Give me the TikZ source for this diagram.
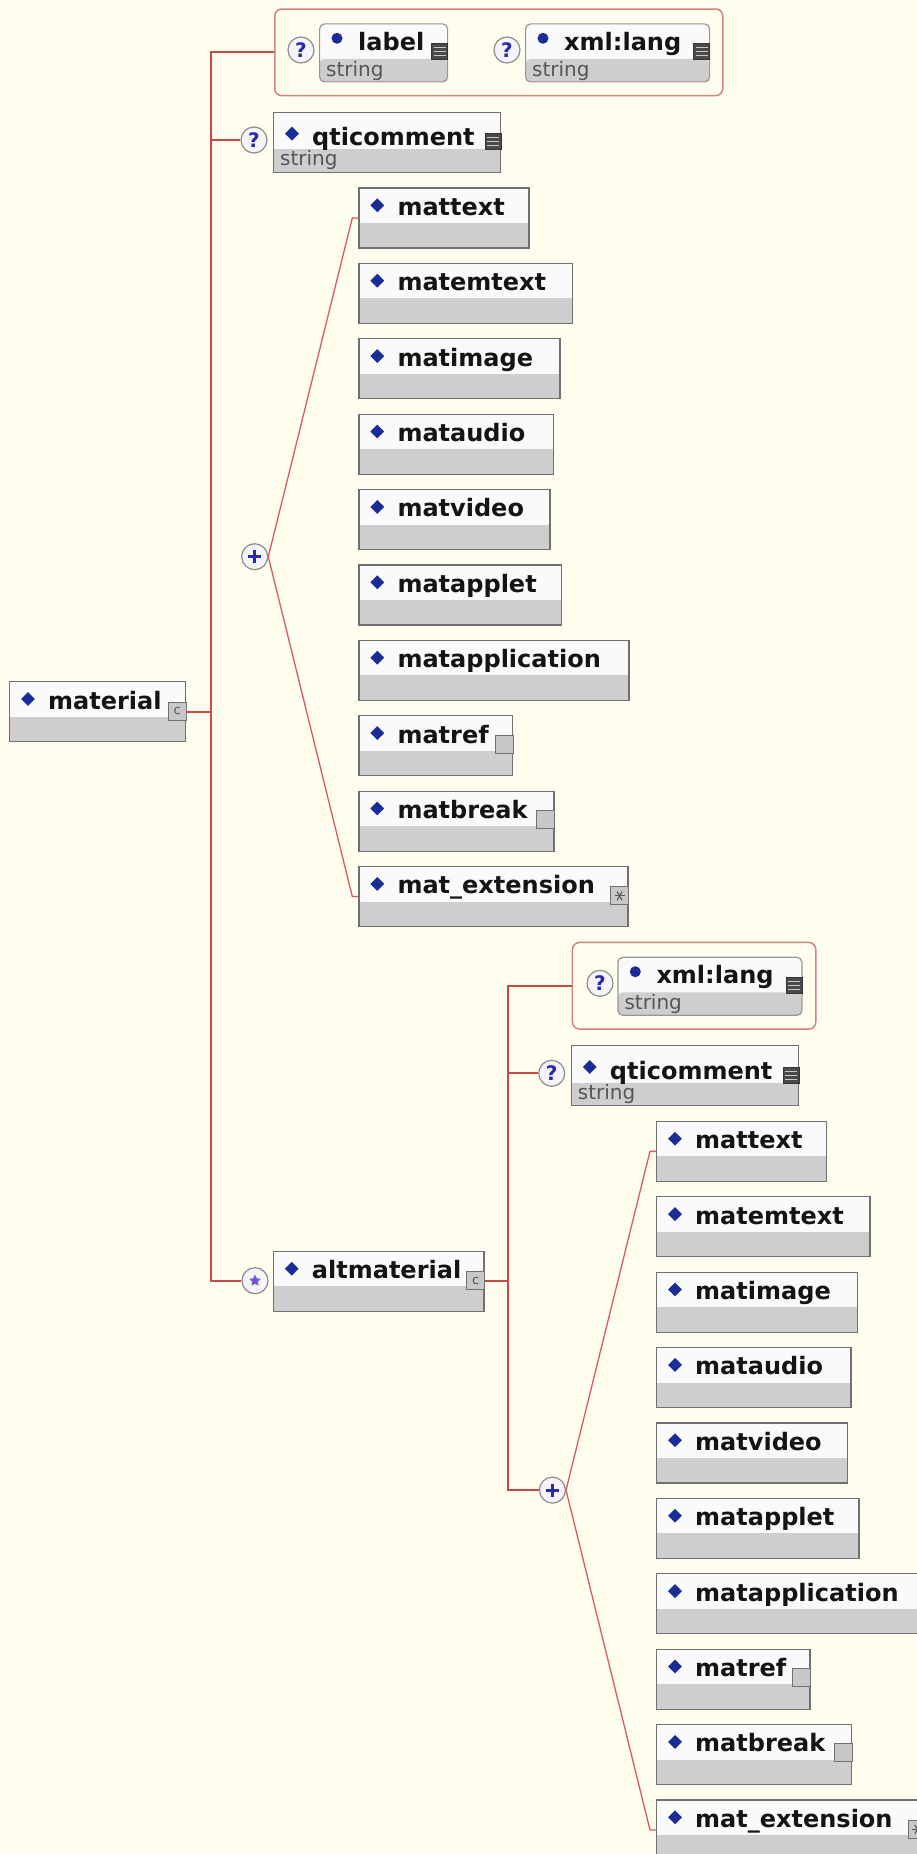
\documentclass[tikz,border=0pt]{standalone}
\usepackage{fontspec}
\setmainfont{DejaVu Sans}
\usetikzlibrary{shapes.geometric}

\definecolor{paper}{RGB}{255,254,238}
\definecolor{wire}{RGB}{198,74,74}
\definecolor{fanwire}{RGB}{212,92,96}
\definecolor{frame}{RGB}{214,128,128}
\definecolor{boxline}{RGB}{112,112,112}
\definecolor{attrline}{RGB}{150,150,150}
\definecolor{boxgray}{RGB}{206,206,206}
\definecolor{boxwhite}{RGB}{250,250,250}
\definecolor{mark}{RGB}{26,44,150}
\definecolor{qblue}{RGB}{40,40,170}
\definecolor{ringfill}{RGB}{244,244,250}
\definecolor{ringline}{RGB}{140,140,140}
\definecolor{typecol}{RGB}{85,85,85}
\definecolor{icondark}{RGB}{74,74,74}
\definecolor{iconlight}{RGB}{200,200,200}
\definecolor{starfill}{RGB}{110,90,210}
\definecolor{ink}{RGB}{20,20,20}

\tikzset{
  elem/.style={draw=boxline, line width=1.3pt, fill=boxwhite, minimum height=60pt,
    inner sep=0pt, anchor=north west,
    path picture={\fill[boxgray] ([yshift=25pt]path picture bounding box.south west)
      rectangle (path picture bounding box.south east);}},
  typed/.style={elem,
    path picture={\fill[boxgray] ([yshift=23pt]path picture bounding box.south west)
      rectangle (path picture bounding box.south east);}},
  attr/.style={draw=attrline, line width=1.2pt, fill=boxwhite, rounded corners=5pt,
    minimum height=58pt, inner sep=0pt, anchor=north west,
    path picture={\fill[boxgray] ([yshift=23pt]path picture bounding box.south west)
      rectangle (path picture bounding box.south east);}},
  group/.style={draw=frame, line width=1.5pt, rounded corners=7pt, anchor=north west,
    inner sep=0pt},
  nametext/.style={anchor=base west, inner sep=0pt, text=ink,
    font=\fontsize{24}{24}\selectfont\bfseries},
  typetext/.style={anchor=base west, inner sep=0pt, text=typecol,
    font=\fontsize{20}{20}\selectfont},
  elemmark/.style={diamond, fill=mark, inner sep=0pt, minimum width=14pt, minimum height=14pt},
  attrmark/.style={circle, fill=mark, inner sep=0pt, minimum size=11pt},
  ring/.style={circle, draw=ringline, fill=ringfill, line width=1.2pt, minimum size=26pt,
    inner sep=0pt},
  optional/.style={ring, text=qblue, font=\fontsize{20}{20}\selectfont\bfseries},
  plusring/.style={ring,
    path picture={\draw[qblue, line width=2.8pt]
      ([xshift=-6.5pt]path picture bounding box.center) -- ([xshift=6.5pt]path picture bounding box.center)
      ([yshift=-6.5pt]path picture bounding box.center) -- ([yshift=6.5pt]path picture bounding box.center);}},
  wire/.style={draw=wire, line width=2.2pt},
  fan/.style={draw=fanwire, line width=1.3pt, line join=round},
  plainicon/.style={draw=boxline, fill=iconlight, line width=1pt, minimum size=18pt, inner sep=0pt},
  cicon/.style={plainicon, font=\fontsize{13}{13}\selectfont, text=typecol},
  exticon/.style={plainicon,
    path picture={\foreach \ang in {0,60,120}
      \draw[typecol, line width=1.1pt]
        ([shift={(\ang:5pt)}]path picture bounding box.center) --
        ([shift={(\ang+180:5pt)}]path picture bounding box.center);}},
  typeicon/.style={draw=icondark!70!black, fill=icondark, line width=0.8pt, minimum size=16pt,
    inner sep=0pt,
    path picture={\foreach \yy in {-4,0,4}
      \draw[iconlight, line width=1pt]
        ([xshift=-6pt,yshift=\yy pt]path picture bounding box.center) --
        ([xshift=6pt,yshift=\yy pt]path picture bounding box.center);}},
}

% element box without a type line
\newcommand{\plainel}[5]{%
  \node[elem, minimum width=#4 pt] (#1) at (#2,#3) {};
  \node[elemmark] (#1-m) at ([xshift=19pt,yshift=-18pt]#1.north west) {};
  \node[nametext] (#1-n) at ([xshift=39pt,yshift=-28pt]#1.north west) {#5};
}
% element box with a simple type
\newcommand{\typedel}[5]{%
  \node[typed, minimum width=#4 pt] (#1) at (#2,#3) {};
  \node[elemmark] (#1-m) at ([xshift=19pt,yshift=-22pt]#1.north west) {};
  \node[nametext] (#1-n) at ([xshift=39pt,yshift=-34pt]#1.north west) {#5};
  \node[typetext] (#1-s) at ([xshift=7pt,yshift=-54pt]#1.north west) {string};
  \node[typeicon] (#1-i) at ([xshift=-8pt,yshift=-30pt]#1.north east) {};
}
% attribute box
\newcommand{\attrel}[5]{%
  \node[attr, minimum width=#4 pt] (#1) at (#2,#3) {};
  \node[attrmark] (#1-m) at ([xshift=18pt,yshift=-15pt]#1.north west) {};
  \node[nametext] (#1-n) at ([xshift=39pt,yshift=-27pt]#1.north west) {#5};
  \node[typetext] (#1-s) at ([xshift=7pt,yshift=-53pt]#1.north west) {string};
  \node[typeicon] (#1-i) at ([xshift=-8.5pt,yshift=-28.5pt]#1.north east) {};
}

\begin{document}
\begin{tikzpicture}[x=1pt, y=-1pt]
  \useasboundingbox (0,0) rectangle (917,1854);
  \fill[paper] (0,0) rectangle (917,1854);
  \clip (0,0) rectangle (917,1854);

  \coordinate (trunkA) at (211,0);
  \coordinate (trunkB) at (508,0);

  % ---------- material ----------
  \node[group, minimum width=448pt, minimum height=86.6pt] (attrsA) at (274,8.3) {};
  \attrel{labelA}{319}{23.3}{128}{label}
  \attrel{langA}{525}{23.3}{184}{xml:lang}
  \node[optional] (labelA-q) at (301,50) {?};
  \node[optional] (langA-q) at (507,50) {?};

  \typedel{qtcA}{273}{111.6}{227}{qticomment}
  \node[optional] (qtcA-q) at (254,140) {?};

  \plainel{material}{9}{681}{176}{material}
  \node[cicon] (material-i) at ([xshift=-9pt,yshift=-30pt]material.north east) {c};

  \foreach \i/\wid/\lbl in {1/170/mattext, 2/213.4/matemtext, 3/201/matimage,
      4/194.4/mataudio, 5/191/matvideo, 6/202.4/matapplet, 7/270/matapplication,
      8/153.4/matref, 9/195/matbreak, 10/269/mat\_extension}{
    \pgfmathsetmacro\ytop{187.3+75.4*(\i-1)}
    \plainel{a\i}{358.3}{\ytop}{\wid}{\lbl}
  }
  \node[plainicon] (a8-i) at ([xshift=-9pt,yshift=-29pt]a8.north east) {};
  \node[plainicon] (a9-i) at ([xshift=-9pt,yshift=-29pt]a9.north east) {};
  \node[exticon] (a10-i) at ([xshift=-9pt,yshift=-30pt]a10.north east) {};
  \node[plusring] (plusA) at (254.7,556.7) {};

  % ---------- altmaterial ----------
  \plainel{altmaterial}{272.7}{1250.7}{210.6}{altmaterial}
  \node[cicon] (altmaterial-i) at ([xshift=-9pt,yshift=-30pt]altmaterial.north east) {c};
  \node[ring] (altq) at (255,1280.7) {};
  \node[star, star points=5, star point ratio=2, fill=starfill, inner sep=0pt,
        minimum size=12pt] (altq-s) at (altq) {};

  \node[group, minimum width=243.3pt, minimum height=86.6pt] (attrsB) at (571.7,941.7) {};
  \attrel{langB}{617.3}{956.7}{184}{xml:lang}
  \node[optional] (langB-q) at (600,983.3) {?};

  \typedel{qtcB}{570.7}{1045}{227}{qticomment}
  \node[optional] (qtcB-q) at (551.7,1073.3) {?};

  \foreach \i/\wid/\lbl in {1/170/mattext, 2/213.4/matemtext, 3/201/matimage,
      4/194.4/mataudio, 5/191/matvideo, 6/202.4/matapplet, 7/270/matapplication,
      8/153.4/matref, 9/195/matbreak, 10/269/mat\_extension}{
    \pgfmathsetmacro\ytop{1120.7+75.4*(\i-1)}
    \plainel{b\i}{656}{\ytop}{\wid}{\lbl}
  }
  \node[plainicon] (b8-i) at ([xshift=-9pt,yshift=-29pt]b8.north east) {};
  \node[plainicon] (b9-i) at ([xshift=-9pt,yshift=-29pt]b9.north east) {};
  \node[exticon] (b10-i) at ([xshift=-9pt,yshift=-30pt]b10.north east) {};
  \node[plusring] (plusB) at (552.4,1490.1) {};

  % ---------- connectors ----------
  \draw[wire] (material.east) -- (material.east -| trunkA);
  \draw[wire] (attrsA.west) -- (attrsA.west -| trunkA) -- (altq.west -| trunkA) -- (altq.west);
  \draw[wire] (qtcA-q.west) -- (qtcA-q.west -| trunkA);
  \draw[fan] (a1.west) -- ++(-6,0) -- (plusA.east) -- ([xshift=-6pt]a10.west) -- (a10.west);

  \draw[wire] (altmaterial.east) -- (altmaterial.east -| trunkB);
  \draw[wire] (attrsB.west) -- (attrsB.west -| trunkB) -- (plusB.west -| trunkB) -- (plusB.west);
  \draw[wire] (qtcB-q.west) -- (qtcB-q.west -| trunkB);
  \draw[fan] (b1.west) -- ++(-6,0) -- (plusB.east) -- ([xshift=-6pt]b10.west) -- (b10.west);
\end{tikzpicture}
\end{document}
